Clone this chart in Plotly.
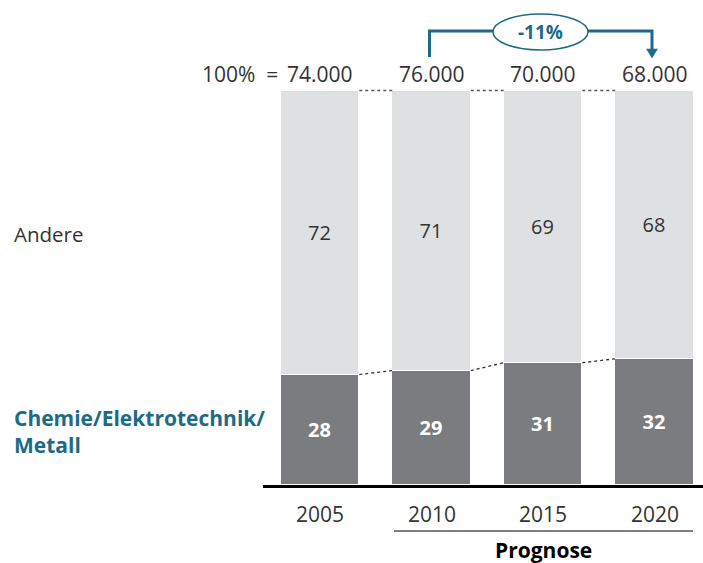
import plotly.graph_objects as go

# ---- data ----
years = ["2005", "2010", "2015", "2020"]
totals = ["74.000", "76.000", "70.000", "68.000"]
chemie = [28, 29, 31, 32]
andere = [72, 71, 69, 68]
change_label = "-11%"
series_names = ["Chemie/Elektrotechnik/<br>Metall", "Andere"]

# ---- styling ----
TEAL = "#1d6b86"
DARK = "#7b7c80"
LIGHT = "#dfe0e2"
TXT = "#333333"
FONT = "Open Sans"
W, H = 703, 563
BAR_W = 0.705

# pixel -> data helpers for layout placement
def xd(px):
    return (px - 320.0) / 111.5

def yd(py):
    return (485.0 - py) / 3.945

xs = list(range(len(years)))

fig = go.Figure()
fig.add_trace(go.Bar(
    x=xs, y=chemie, width=BAR_W, name="Chemie",
    marker=dict(color=DARK, line=dict(color="white", width=1)),
    text=[str(v) for v in chemie], textposition="inside", insidetextanchor="middle",
    textfont=dict(family=FONT, size=20, color="white", weight="bold"),
    hoverinfo="skip",
))
fig.add_trace(go.Bar(
    x=xs, y=andere, width=BAR_W, name="Andere",
    marker=dict(color=LIGHT, line=dict(color="white", width=1)),
    text=[str(v) for v in andere], textposition="inside", insidetextanchor="middle",
    textfont=dict(family=FONT, size=20, color=TXT),
    hoverinfo="skip",
))

shapes = []
anns = []
# connectors
for i in range(len(xs) - 1):
    top_i = chemie[i] + andere[i]
    top_n = chemie[i + 1] + andere[i + 1]
    shapes.append(dict(type="line", x0=xs[i] + BAR_W / 2, x1=xs[i + 1] - BAR_W / 2,
                       y0=top_i, y1=top_n, line=dict(color="#555", width=1.3, dash="dot")))
    shapes.append(dict(type="line", x0=xs[i] + BAR_W / 2, x1=xs[i + 1] - BAR_W / 2,
                       y0=chemie[i], y1=chemie[i + 1], line=dict(color="#333", width=1.3, dash="dot")))

# axis baseline
shapes.append(dict(type="line", x0=xd(263), x1=xd(703), y0=yd(486.5), y1=yd(486.5),
                   line=dict(color="black", width=3)))
# prognose line
shapes.append(dict(type="line", x0=xd(394), x1=xd(693), y0=yd(531), y1=yd(531),
                   line=dict(color="black", width=1)))

# bracket
yb = yd(31)
shapes.append(dict(type="path",
                   path=f"M {xd(429.5)},{yd(57)} L {xd(429.5)},{yb} L {xd(494)},{yb}",
                   line=dict(color=TEAL, width=3)))
shapes.append(dict(type="path",
                   path=f"M {xd(587)},{yb} L {xd(652)},{yb} L {xd(652)},{yd(50)}",
                   line=dict(color=TEAL, width=3)))
shapes.append(dict(type="path",
                   path=f"M {xd(646.5)},{yd(49)} L {xd(657.5)},{yd(49)} L {xd(652)},{yd(58)} Z",
                   fillcolor=TEAL, line=dict(color=TEAL, width=0.5)))
shapes.append(dict(type="circle", x0=xd(493), x1=xd(588), y0=yd(14), y1=yd(50),
                   fillcolor="white", line=dict(color=TEAL, width=1.5)))
anns.append(dict(x=xd(540.5), y=yd(32), text=change_label, showarrow=False,
                 font=dict(family=FONT, size=19, color=TEAL, weight="bold")))

# totals
anns.append(dict(x=xd(280), y=yd(74), text="100% \u00a0=", showarrow=False, xanchor="right",
                 font=dict(family=FONT, size=21, color=TXT)))
for i, t in enumerate(totals):
    anns.append(dict(x=xs[i], y=yd(74), text=t, showarrow=False,
                     font=dict(family=FONT, size=21, color=TXT)))
# years
for i, yv in enumerate(years):
    anns.append(dict(x=xs[i], y=yd(514), text=yv, showarrow=False,
                     font=dict(family=FONT, size=21, color=TXT)))
anns.append(dict(x=xd(543.5), y=yd(550), text="Prognose", showarrow=False,
                 font=dict(family=FONT, size=21, color="black", weight="bold")))

# series labels
anns.append(dict(x=xd(12), y=yd(234), text=series_names[1], showarrow=False, xanchor="left",
                 font=dict(family=FONT, size=20.5, color=TXT)))
anns.append(dict(x=xd(12), y=yd(431), text=series_names[0], showarrow=False, xanchor="left",
                 align="left", font=dict(family=FONT, size=21, color=TEAL, weight="bold")))

fig.update_layout(
    barmode="stack", width=W, height=H,
    margin=dict(l=0, r=0, t=0, b=0),
    paper_bgcolor="white", plot_bgcolor="white",
    showlegend=False, bargap=0,
    xaxis=dict(range=[xd(0), xd(W)], visible=False, fixedrange=True),
    yaxis=dict(range=[yd(H), yd(0)], visible=False, fixedrange=True),
    shapes=shapes, annotations=anns,
    uniformtext=dict(mode=False),
)
fig.write_html("out.html", config=dict(displayModeBar=False),
               post_script="document.body.style.margin='0';document.body.style.overflow='hidden';")
